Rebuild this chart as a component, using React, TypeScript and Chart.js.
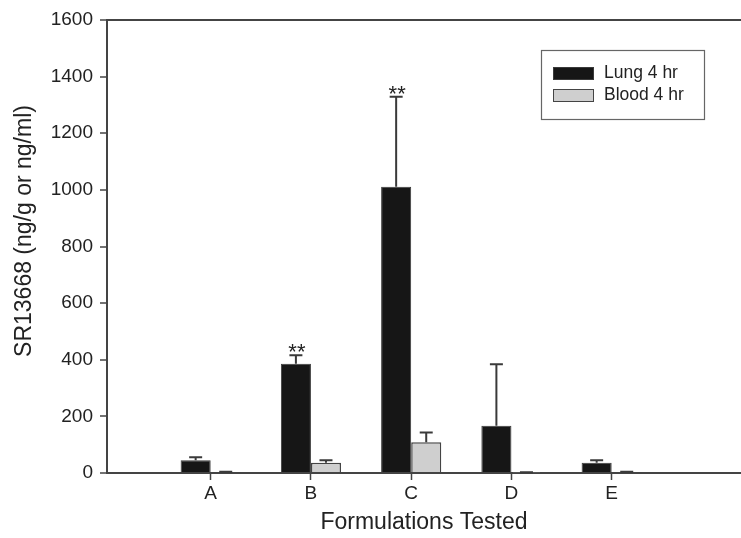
import React, { useEffect, useRef } from 'react';
import { Chart, registerables } from 'chart.js';

Chart.register(...registerables);

// ---- data ----
const categories = ['A', 'B', 'C', 'D', 'E'];
const seriesLabels = ['Lung 4 hr', 'Blood 4 hr'];
const lungValues = [45, 386, 1011, 167, 36];
const lungErrors = [11, 30, 318, 217, 9];
const bloodValues = [3, 36, 109, 2, 3];
const bloodErrors = [1, 9, 34, 1, 1];
const lungMarks = ['', '**', '**', '', ''];
const bloodMarks = ['', '', '', '', ''];
const yMin = 0;
const yMax = 1600;
const yStep = 200;
const xTitle = 'Formulations Tested';
const yTitle = 'SR13668 (ng/g or ng/ml)';

const FONT = '"Liberation Sans", Arial, Helvetica, sans-serif';
const AXIS = '#444444';
const TEXT = '#222222';

const overlayPlugin = {
  id: 'overlay',
  afterDatasetsDraw(chart: any) {
    const ctx = chart.ctx;
    const y = chart.scales.y;
    chart.data.datasets.forEach((ds: any, di: number) => {
      const meta = chart.getDatasetMeta(di);
      meta.data.forEach((bar: any, i: number) => {
        const v = ds.data[i].y;
        const top = y.getPixelForValue(v + ds.errors[i]);
        ctx.save();
        ctx.strokeStyle = '#3a3a3a';
        ctx.lineWidth = 2;
        ctx.beginPath();
        ctx.moveTo(bar.x, bar.y);
        ctx.lineTo(bar.x, top);
        ctx.moveTo(bar.x - 6.5, top);
        ctx.lineTo(bar.x + 6.5, top);
        ctx.stroke();
        const mark = ds.marks[i];
        if (mark) {
          ctx.fillStyle = TEXT;
          ctx.font = `22px ${FONT}`;
          ctx.textAlign = 'center';
          ctx.textBaseline = 'alphabetic';
          ctx.fillText(mark, bar.x + 1, top + 4);
        }
        ctx.restore();
      });
    });
  },
  afterDraw(chart: any) {
    const ctx = chart.ctx;
    const area = chart.chartArea;
    ctx.save();
    // y axis title
    ctx.fillStyle = TEXT;
    ctx.font = `23px ${FONT}`;
    ctx.textAlign = 'center';
    ctx.textBaseline = 'middle';
    ctx.translate(25, 231);
    ctx.rotate(-Math.PI / 2);
    ctx.fillText(yTitle, 0, 0);
    ctx.restore();

    // legend
    ctx.save();
    const bx = area.left + 434;
    const by = area.top + 30;
    ctx.strokeStyle = '#666666';
    ctx.lineWidth = 1.2;
    ctx.strokeRect(bx + 0.5, by + 0.5, 163, 69);
    chart.data.datasets.forEach((ds: any, i: number) => {
      const sy = by + 17 + i * 22;
      ctx.fillStyle = ds.backgroundColor;
      ctx.fillRect(bx + 12, sy, 41, 12.5);
      ctx.strokeStyle = ds.borderColor;
      ctx.lineWidth = 1;
      ctx.strokeRect(bx + 12.5, sy + 0.5, 40, 12);
      ctx.fillStyle = TEXT;
      ctx.font = `17.5px ${FONT}`;
      ctx.textAlign = 'left';
      ctx.textBaseline = 'middle';
      ctx.fillText(ds.label, bx + 63, sy + 6.5);
    });
    ctx.restore();
  },
};

export default function App() {
  const ref = useRef<HTMLCanvasElement | null>(null);

  useEffect(() => {
    if (!ref.current) return;
    const toPoints = (vals: number[]) => vals.map((v, i) => ({ x: i + 1, y: v }));
    const chart = new Chart(ref.current, {
      type: 'bar',
      data: {
        datasets: [
          {
            label: seriesLabels[0],
            data: toPoints(lungValues),
            backgroundColor: '#161616',
            borderColor: '#3a3a3a',
            borderWidth: 1,
            errors: lungErrors,
            marks: lungMarks,
          } as any,
          {
            label: seriesLabels[1],
            data: toPoints(bloodValues),
            backgroundColor: '#cfcfcf',
            borderColor: '#444444',
            borderWidth: 1.5,
            errors: bloodErrors,
            marks: bloodMarks,
          } as any,
        ],
      },
      options: {
        responsive: false,
        animation: false,
        devicePixelRatio: 1,
        layout: { padding: { top: 20, left: 0, right: 0, bottom: 0 } },
        categoryPercentage: 0.6,
        barPercentage: 1,
        plugins: {
          legend: { display: false },
          tooltip: { enabled: false },
        },
        scales: {
          x: {
            type: 'linear',
            min: -0.0344,
            max: 6.29,
            offset: false,
            afterBuildTicks: (scale: any) => {
              scale.ticks = categories.map((_, i) => ({ value: i + 1 }));
            },
            afterFit: (scale: any) => {
              scale.height = 65;
            },
            ticks: {
              autoSkip: false,
              maxRotation: 0,
              padding: 2,
              color: TEXT,
              font: { family: FONT, size: 19 },
              callback: (v: any) => categories[Number(v) - 1] ?? '',
            },
            grid: {
              offset: false,
              drawOnChartArea: false,
              drawTicks: true,
              tickLength: 7,
              tickColor: AXIS,
              tickWidth: 1.5,
            },
            border: { display: true, color: AXIS, width: 2 },
            title: {
              display: true,
              text: xTitle,
              color: TEXT,
              font: { family: FONT, size: 23 },
              padding: { top: 0, bottom: 2 },
            },
          } as any,
          y: {
            type: 'linear',
            min: yMin,
            max: yMax,
            afterFit: (scale: any) => {
              scale.width = 107;
            },
            ticks: {
              stepSize: yStep,
              padding: 7,
              color: TEXT,
              font: { family: FONT, size: 19 },
              callback: (v: any) => String(v),
            },
            grid: {
              drawOnChartArea: true,
              drawTicks: true,
              tickLength: 7,
              lineWidth: 2,
              tickWidth: 1.5,
              tickColor: AXIS,
              color: (c: any) => (c.tick && c.tick.value === yMax ? AXIS : 'rgba(0,0,0,0)'),
            },
            border: { display: true, color: AXIS, width: 2 },
          },
        },
      } as any,
      plugins: [overlayPlugin],
    });
    return () => chart.destroy();
  }, []);

  return (
    <div style={{ position: 'absolute', left: 0, top: 0, width: 741, height: 538, background: '#ffffff' }}>
      <canvas ref={ref} width={741} height={538} style={{ display: 'block' }} />
    </div>
  );
}
